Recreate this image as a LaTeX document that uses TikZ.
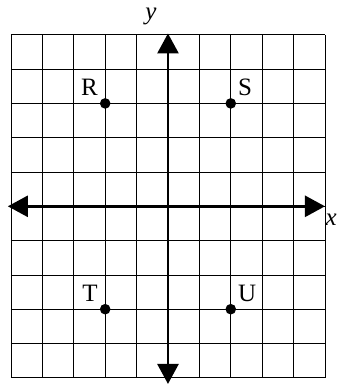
\documentclass[tikz,border=0pt]{standalone}
\usepackage{fontspec}
\setmainfont{Liberation Serif}
\usetikzlibrary{arrows.meta}

\begin{document}
\begin{tikzpicture}[x=31.4pt, y=34.3pt, font=\fontsize{25}{30}\selectfont,
  gridline/.style={draw=black, line width=0.8pt},
  axis/.style={line width=2.6pt, {Triangle[length=20pt,width=21pt]}-{Triangle[length=20pt,width=21pt]}},
  dot/.style={circle, fill=black, inner sep=0pt, minimum size=10.6pt, label distance=3.5pt}]
\useasboundingbox (-5.35,-5.21) rectangle (5.414,6.015);
% grid
\foreach \i in {-5,...,5} {
  \draw[gridline] (\i,-5) -- (\i,5);
  \draw[gridline] (-5,\i) -- (5,\i);
}
% axes
\coordinate (xl) at (-5.1,0);
\coordinate (xr) at (5.0,0);
\coordinate (yb) at (0,-5.18);
\coordinate (yt) at (0,5.04);
\draw[axis] (xl) -- (xr);
\draw[axis] (yb) -- (yt);
\node[inner sep=0pt] (xlab) at (5.20,-0.40) {\textit{x}};
\node (ylab) at (-0.54,5.53) {\textit{y}};
% points
\node[dot, label=135:R] (R) at (-2,3) {};
\node[dot, label=45:S] (S) at (2,3) {};
\node[dot, label=135:T] (T) at (-2,-3) {};
\node[dot, label=45:U] (U) at (2,-3) {};
\end{tikzpicture}
\end{document}
